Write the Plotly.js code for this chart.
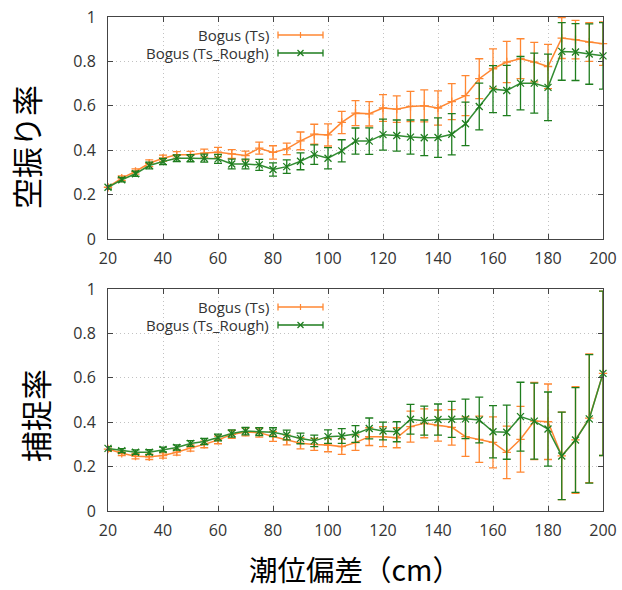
<!DOCTYPE html>
<html>
<head>
<meta charset="utf-8">
<script src="https://cdn.plot.ly/plotly-3.0.1.min.js"></script>
<style>html,body{margin:0;padding:0;background:#fff;}#chart{width:622px;height:590px;}</style>
</head>
<body>
<div id="chart"></div>
<script>
// 潮位偏差 (cm)
const tideDev = [20,25,30,35,40,45,50,55,60,65,70,75,80,85,90,95,100,105,110,115,120,125,130,135,140,145,150,155,160,165,170,175,180,185,190,195,200];

// 空振り率 (false alarm rate)
const falseTs = [0.233,0.274,0.304,0.341,0.364,0.379,0.379,0.387,0.391,0.383,0.376,0.409,0.390,0.406,0.442,0.472,0.469,0.525,0.567,0.564,0.590,0.585,0.597,0.600,0.590,0.619,0.646,0.722,0.767,0.797,0.812,0.797,0.777,0.905,0.898,0.887,0.880];
const falseTsErr = [0.008,0.010,0.012,0.015,0.014,0.015,0.016,0.018,0.022,0.020,0.020,0.027,0.030,0.026,0.040,0.045,0.050,0.050,0.056,0.055,0.060,0.060,0.068,0.072,0.077,0.081,0.090,0.090,0.089,0.093,0.090,0.089,0.100,0.092,0.087,0.087,0.098];
const falseRough = [0.233,0.267,0.294,0.331,0.349,0.364,0.364,0.364,0.361,0.338,0.338,0.334,0.313,0.326,0.350,0.380,0.364,0.397,0.441,0.441,0.470,0.466,0.459,0.456,0.457,0.472,0.519,0.597,0.675,0.669,0.702,0.702,0.683,0.845,0.842,0.833,0.825];
const falseRoughErr = [0.008,0.010,0.012,0.015,0.014,0.015,0.016,0.018,0.020,0.022,0.022,0.025,0.030,0.030,0.038,0.044,0.048,0.050,0.059,0.060,0.070,0.070,0.077,0.080,0.089,0.093,0.098,0.105,0.106,0.113,0.120,0.135,0.150,0.130,0.128,0.136,0.150];

// 捕捉率 (capture rate)
const catchTs = [0.279,0.260,0.247,0.244,0.250,0.265,0.284,0.300,0.320,0.345,0.356,0.353,0.336,0.320,0.305,0.300,0.297,0.290,0.308,0.335,0.335,0.330,0.380,0.395,0.385,0.377,0.335,0.323,0.309,0.264,0.323,0.405,0.402,0.248,0.320,0.418,0.620];
const catchTsErr = [0.010,0.010,0.012,0.012,0.012,0.013,0.014,0.015,0.017,0.018,0.018,0.020,0.022,0.022,0.025,0.027,0.030,0.035,0.035,0.040,0.045,0.045,0.070,0.065,0.070,0.080,0.089,0.104,0.115,0.118,0.148,0.174,0.170,0.197,0.240,0.290,0.370];
const catchRough = [0.282,0.272,0.265,0.265,0.277,0.286,0.304,0.313,0.331,0.349,0.360,0.358,0.355,0.342,0.327,0.316,0.335,0.338,0.347,0.372,0.360,0.357,0.413,0.407,0.412,0.413,0.415,0.410,0.357,0.355,0.425,0.405,0.369,0.248,0.320,0.415,0.620];
const catchRoughErr = [0.008,0.009,0.010,0.011,0.011,0.012,0.013,0.014,0.015,0.016,0.017,0.018,0.020,0.022,0.024,0.026,0.030,0.033,0.038,0.047,0.040,0.045,0.067,0.065,0.070,0.081,0.089,0.103,0.118,0.122,0.155,0.171,0.167,0.197,0.236,0.289,0.370];

const seriesNames = ['Bogus (Ts)', 'Bogus (Ts_Rough)'];
const yTitles = ['空振り率', '捕捉率'];
const xTitle = '潮位偏差（cm）';

const ORANGE = 'rgb(255,135,50)';
const GREEN = 'rgb(30,125,30)';
const GREEN_LINE = 'rgb(50,140,50)';

function mk(y, err, color, lineColor, symbol, xa, ya, msize) {
  return {
    x: tideDev, y: y, type: 'scatter', mode: 'lines+markers',
    xaxis: xa, yaxis: ya, showlegend: false, cliponaxis: false,
    line: {color: lineColor, width: 1.5},
    marker: {symbol: symbol, size: msize, color: color, line: {color: color, width: 1.3}},
    error_y: {type: 'data', array: err, visible: true, color: color, thickness: 1.3, width: 4}
  };
}

const data = [
  mk(falseTs, falseTsErr, ORANGE, ORANGE, 'cross-thin-open', 'x', 'y', 6),
  mk(falseRough, falseRoughErr, GREEN, GREEN_LINE, 'x-thin-open', 'x', 'y', 7),
  mk(catchTs, catchTsErr, ORANGE, ORANGE, 'cross-thin-open', 'x2', 'y2', 6),
  mk(catchRough, catchRoughErr, GREEN, GREEN_LINE, 'x-thin-open', 'x2', 'y2', 7)
];

const W = 622, H = 590, L = 108, R = 19, T = 17, B = 79;
const pw = W - L - R, ph = H - T - B;
const px = v => (v - L) / pw;       // pixel -> paper x
const py = v => (H - B - v) / ph;   // pixel -> paper y

const sans = 'Open Sans, Noto Sans, sans-serif';
const tickFont = {family: sans, size: 16, color: '#333'};
const GRID = '#c2c2c2';
function xAxis(anchor) {
  return {anchor: anchor, domain: [0, 1], range: [20, 200], tick0: 20, dtick: 20,
    ticks: 'inside', ticklen: 5, tickcolor: '#444', mirror: 'allticks',
    showline: true, linecolor: '#444', linewidth: 1,
    showgrid: true, gridcolor: GRID, griddash: '1px,3px', gridwidth: 1,
    zeroline: false, tickfont: tickFont, ticklabelstandoff: 5};
}
function yAxis(anchor, domain) {
  return {anchor: anchor, domain: domain, range: [0, 1], tick0: 0, dtick: 0.2,
    ticks: 'inside', ticklen: 5, tickcolor: '#444', mirror: 'allticks',
    showline: true, linecolor: '#444', linewidth: 1,
    showgrid: true, gridcolor: GRID, griddash: '1px,3px', gridwidth: 1,
    zeroline: false, tickfont: tickFont, ticklabelstandoff: 8};
}

const annotations = [];
const shapes = [];
const cjk = 'Noto Sans CJK JP, sans-serif';
// axis titles
annotations.push({xref: 'paper', yref: 'paper', x: px(25), y: py(147), xanchor: 'center', yanchor: 'middle', text: yTitles[0], textangle: -90, showarrow: false, borderpad: 0, font: {family: cjk, size: 31, color: '#000'}});
annotations.push({xref: 'paper', yref: 'paper', x: px(34), y: py(416), xanchor: 'center', yanchor: 'middle', text: yTitles[1], textangle: -90, showarrow: false, borderpad: 0, font: {family: cjk, size: 31, color: '#000'}});
annotations.push({xref: 'paper', yref: 'paper', x: px(355), y: py(568), xanchor: 'center', yanchor: 'middle', text: xTitle, showarrow: false, borderpad: 0, font: {family: cjk, size: 28.5, color: '#000'}});

// custom key boxes (gnuplot-style: text left of sample)
const keys = [{top: 17, rows: [35, 53]}, {top: 289, rows: [307, 325]}];
const keyColors = [ORANGE, GREEN];
keys.forEach(k => {
  shapes.push({type: 'rect', xref: 'paper', yref: 'paper', x0: px(108.5), x1: px(331), y0: py(k.top + 0.5), y1: py(k.top + 46), fillcolor: '#fff', line: {width: 0}, layer: 'between'});
  k.rows.forEach((ry, i) => {
    const c = keyColors[i];
    annotations.push({xref: 'paper', yref: 'paper', x: px(270), y: py(ry), xanchor: 'right', yanchor: 'middle', text: seriesNames[i], showarrow: false, borderpad: 0, font: {family: sans, size: 15, color: '#333'}});
    shapes.push({type: 'line', xref: 'paper', yref: 'paper', x0: px(278), x1: px(323), y0: py(ry), y1: py(ry), line: {color: c, width: 1.5}});
    shapes.push({type: 'line', xref: 'paper', yref: 'paper', x0: px(278), x1: px(278), y0: py(ry - 3.5), y1: py(ry + 3.5), line: {color: c, width: 1.3}});
    shapes.push({type: 'line', xref: 'paper', yref: 'paper', x0: px(323), x1: px(323), y0: py(ry - 3.5), y1: py(ry + 3.5), line: {color: c, width: 1.3}});
    if (i === 0) {
      shapes.push({type: 'line', xref: 'paper', yref: 'paper', x0: px(300.5), x1: px(300.5), y0: py(ry - 3), y1: py(ry + 3), line: {color: c, width: 1.2}});
    } else {
      shapes.push({type: 'line', xref: 'paper', yref: 'paper', x0: px(297.5), x1: px(303.5), y0: py(ry - 3), y1: py(ry + 3), line: {color: c, width: 1.3}});
      shapes.push({type: 'line', xref: 'paper', yref: 'paper', x0: px(297.5), x1: px(303.5), y0: py(ry + 3), y1: py(ry - 3), line: {color: c, width: 1.3}});
    }
  });
});

const layout = {
  width: W, height: H,
  margin: {l: L, r: R, t: T, b: B, pad: 0},
  paper_bgcolor: '#fff', plot_bgcolor: '#fff',
  showlegend: false,
  xaxis: xAxis('y'),
  yaxis: yAxis('x', [py(239), 1]),
  xaxis2: xAxis('y2'),
  yaxis2: yAxis('x2', [0, py(289)]),
  annotations: annotations,
  shapes: shapes
};

Plotly.newPlot('chart', data, layout, {displayModeBar: false, staticPlot: true});
</script>
</body>
</html>
